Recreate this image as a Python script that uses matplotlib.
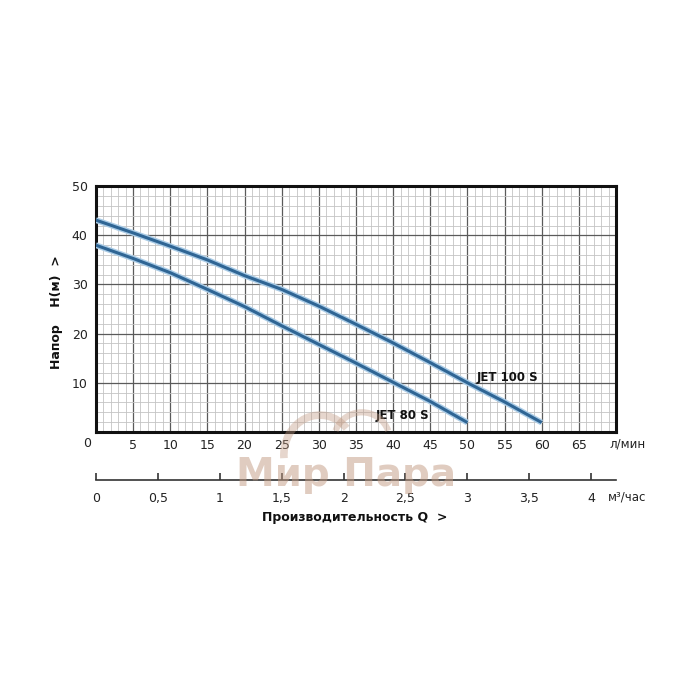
import numpy as np
import matplotlib
matplotlib.use('Agg')
import matplotlib.pyplot as plt
from matplotlib.patches import Arc
from matplotlib.transforms import blended_transform_factory

plt.rcParams['font.family'] = ['DejaVu Sans']

# расход, л/мин и напор, м
q_100 = [0, 5, 10, 15, 20, 25, 30, 35, 40, 45, 50, 55, 60]
h_100 = [43.1, 40.5, 37.8, 35.0, 31.8, 29.0, 25.6, 21.9, 18.1, 14.1, 10.0, 6.1, 1.9]
q_80 = [0, 5, 10, 15, 20, 25, 30, 35, 40, 45, 50]
h_80 = [38.0, 35.3, 32.4, 29.0, 25.5, 21.6, 17.8, 14.0, 10.1, 6.2, 1.9]

x_ticks = [0, 5, 10, 15, 20, 25, 30, 35, 40, 45, 50, 55, 60, 65]
y_ticks = [10, 20, 30, 40, 50]
m3_ticks = [0, 0.5, 1, 1.5, 2, 2.5, 3, 3.5, 4]
m3_labels = ['0', '0,5', '1', '1,5', '2', '2,5', '3', '3,5', '4']

fig = plt.figure(figsize=(7, 7), dpi=100)
ax = fig.add_axes([0.137, 0.383, 0.743, 0.351])

ax.set_xlim(0, 70)
ax.set_ylim(0, 50)

# сетка
ax.set_xticks(x_ticks)
ax.set_xticks(np.arange(0, 71, 1), minor=True)
ax.set_yticks(y_ticks)
ax.set_yticks(np.arange(0, 51, 2), minor=True)
ax.grid(which='minor', color='#c4c4c4', lw=0.6)
ax.grid(which='major', color='#5a5a5a', lw=0.9)
ax.set_axisbelow(True)

ax.tick_params(which='both', length=0)
ax.tick_params(axis='x', pad=5, labelsize=9, colors='#222222')
ax.tick_params(axis='y', pad=6, labelsize=9, colors='#222222')
ax.set_xticklabels([''] + [str(v) for v in x_ticks[1:]])

for s in ax.spines.values():
    s.set_linewidth(2.2)
    s.set_color('#111111')

# кривые
for q, h in [(q_100, h_100), (q_80, h_80)]:
    ax.plot(q, h, color='#a9cbe6', lw=4.2, solid_capstyle='butt', zorder=3)
    ax.plot(q, h, color='#2f6594', lw=2.2, solid_capstyle='butt', zorder=4)

ax.text(51.2, 11.1, 'JET 100 S', fontsize=8.5, fontweight='bold', va='center', color='#111111', zorder=5)
ax.text(37.6, 3.3, 'JET 80 S', fontsize=8.5, fontweight='bold', va='center', color='#111111', zorder=5)

tr = blended_transform_factory(ax.transData, ax.transAxes)
ax.text(-1.2, -0.048, '0', fontsize=9, ha='center', va='center', color='#222222', transform=tr)
ax.text(71.5, -0.048, 'л/мин', fontsize=8.5, ha='center', va='center', color='#222222', transform=tr, clip_on=False)
ax.text(71.5, -0.264, 'м³/час', fontsize=8.5, ha='center', va='center', color='#222222', transform=tr, clip_on=False)

# вторая шкала, м3/ч
sec = ax.secondary_xaxis(-0.195, functions=(lambda x: x * 0.06, lambda x: x / 0.06))
sec.set_xticks(m3_ticks)
sec.set_xticklabels(m3_labels)
sec.tick_params(direction='in', length=5, width=1.1, pad=9, labelsize=9, colors='#222222')
sec.spines['bottom'].set_linewidth(1.2)
sec.spines['bottom'].set_color('#333333')

fig.text(0.081, 0.554, 'Напор    H(м)  >', rotation=90, fontsize=9, fontweight='bold',
         ha='center', va='center', color='#111111')
fig.text(0.507, 0.26, 'Производительность Q  >', fontsize=9, fontweight='bold',
         ha='center', va='center', color='#111111')

# водяной знак
wm = '#c29a82'
fig.add_artist(Arc((0.457, 0.35), 0.103, 0.114, theta1=45, theta2=185, transform=fig.transFigure,
                   color=wm, lw=5.5, alpha=0.4, zorder=10))
fig.add_artist(Arc((0.517, 0.371), 0.08, 0.08, theta1=20, theta2=160, transform=fig.transFigure,
                   color=wm, lw=4.5, alpha=0.4, zorder=10))
fig.text(0.494, 0.322, 'Мир Пара', fontsize=28, fontweight='bold', ha='center', va='center',
         color=wm, alpha=0.5, zorder=10)

fig.savefig('out.png', dpi=100)
